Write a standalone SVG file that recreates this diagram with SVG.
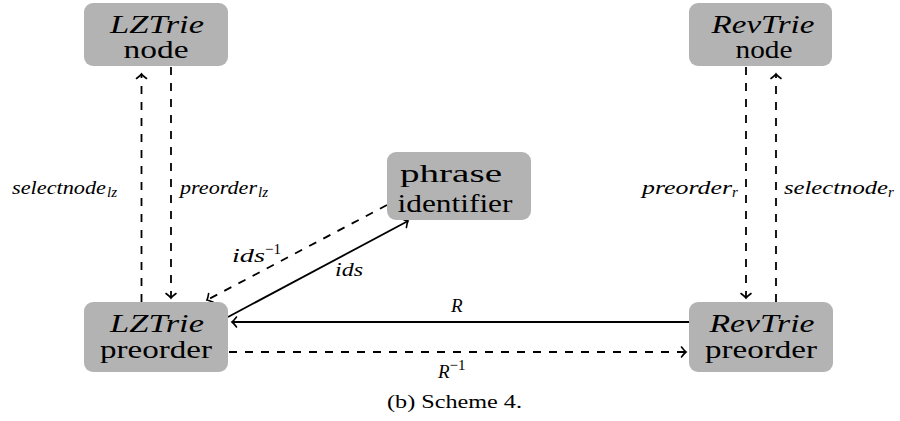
<svg xmlns="http://www.w3.org/2000/svg" width="900" height="421" viewBox="0 0 900 421" font-family="'Liberation Serif', 'DejaVu Serif', serif">
<style>
.box{fill:#b3b3b3;}
.t{font-size:25px;fill:#000;text-anchor:middle;}
.i{font-style:italic;}
.lab{font-size:19px;font-style:italic;fill:#000;}
.sub{font-size:15px;}
.c{fill:none;stroke:#000;stroke-width:1.8;}
.d{stroke-dasharray:8 8;}
.cap{font-size:18px;fill:#000;}
</style>
<defs>
<marker id="ah" markerUnits="userSpaceOnUse" viewBox="-7 -7 14 14" markerWidth="14" markerHeight="14" refX="0" refY="0" orient="auto">
<path d="M-4.5,-5 Q-1.5,-1 0,0 Q-1.5,1 -4.5,5" fill="none" stroke="#000" stroke-width="1.6" stroke-linecap="round"/>
</marker>
</defs>
<rect width="900" height="421" fill="#fff"/>
<g id="connectors">
<line class="c d" x1="141.5" y1="302" x2="141.5" y2="74" marker-end="url(#ah)"/>
<line class="c d" x1="171" y1="67" x2="171" y2="298" marker-end="url(#ah)"/>
<line class="c d" x1="746" y1="67" x2="746" y2="298" marker-end="url(#ah)"/>
<line class="c d" x1="776" y1="302" x2="776" y2="74" marker-end="url(#ah)"/>
<line class="c" x1="228" y1="317" x2="408" y2="221" marker-end="url(#ah)"/>
<line class="c d" x1="387" y1="205" x2="207" y2="300" marker-end="url(#ah)"/>
<line class="c" x1="689" y1="322" x2="232" y2="322" marker-end="url(#ah)"/>
<line class="c d" x1="229" y1="352" x2="686" y2="352" marker-end="url(#ah)"/>
<text class="lab" x="12" y="194"><tspan textLength="94" lengthAdjust="spacingAndGlyphs">selectnode</tspan><tspan class="sub" dx="1" dy="3">lz</tspan></text>
<text class="lab" x="180" y="194"><tspan textLength="77" lengthAdjust="spacingAndGlyphs">preorder</tspan><tspan class="sub" dx="1" dy="3">lz</tspan></text>
<text class="lab" x="642" y="194"><tspan textLength="90" lengthAdjust="spacingAndGlyphs">preorder</tspan><tspan class="sub" dy="3">r</tspan></text>
<text class="lab" x="784" y="194"><tspan textLength="104" lengthAdjust="spacingAndGlyphs">selectnode</tspan><tspan class="sub" dy="3">r</tspan></text>
<text class="lab" x="232" y="262"><tspan textLength="33" lengthAdjust="spacingAndGlyphs">ids</tspan><tspan class="sub" dy="-8" font-style="normal">−1</tspan></text>
<text class="lab" x="335" y="276" textLength="28" lengthAdjust="spacingAndGlyphs">ids</text>
<text class="lab" x="451" y="312">R</text>
<text class="lab" x="438" y="378">R<tspan class="sub" dy="-8" font-style="normal">−1</tspan></text>
</g>
<g id="lztrie-node">
<rect class="box" x="84" y="3" width="144" height="63" rx="9"/>
<text class="t i" x="157" y="33" textLength="94" lengthAdjust="spacingAndGlyphs">LZTrie</text>
<text class="t" x="156" y="58" textLength="65" lengthAdjust="spacingAndGlyphs">node</text>
</g>
<g id="revtrie-node">
<rect class="box" x="689" y="3" width="143" height="63" rx="9"/>
<text class="t i" x="763" y="33" textLength="103" lengthAdjust="spacingAndGlyphs">RevTrie</text>
<text class="t" x="764" y="58" textLength="57" lengthAdjust="spacingAndGlyphs">node</text>
</g>
<g id="phrase-identifier">
<rect class="box" x="387" y="152" width="144" height="68" rx="9"/>
<text class="t" x="451" y="182" textLength="102" lengthAdjust="spacingAndGlyphs">phrase</text>
<text class="t" x="455" y="212" textLength="115" lengthAdjust="spacingAndGlyphs">identifier</text>
</g>
<g id="lztrie-preorder">
<rect class="box" x="84" y="302" width="144" height="70" rx="9"/>
<text class="t i" x="157" y="332" textLength="94" lengthAdjust="spacingAndGlyphs">LZTrie</text>
<text class="t" x="156" y="358" textLength="112" lengthAdjust="spacingAndGlyphs">preorder</text>
</g>
<g id="revtrie-preorder">
<rect class="box" x="689" y="302" width="144" height="70" rx="9"/>
<text class="t i" x="762" y="332" textLength="105" lengthAdjust="spacingAndGlyphs">RevTrie</text>
<text class="t" x="761" y="358" textLength="112" lengthAdjust="spacingAndGlyphs">preorder</text>
</g>
<text class="cap" x="387" y="408" textLength="135" lengthAdjust="spacingAndGlyphs">(b) Scheme 4.</text>
</svg>
